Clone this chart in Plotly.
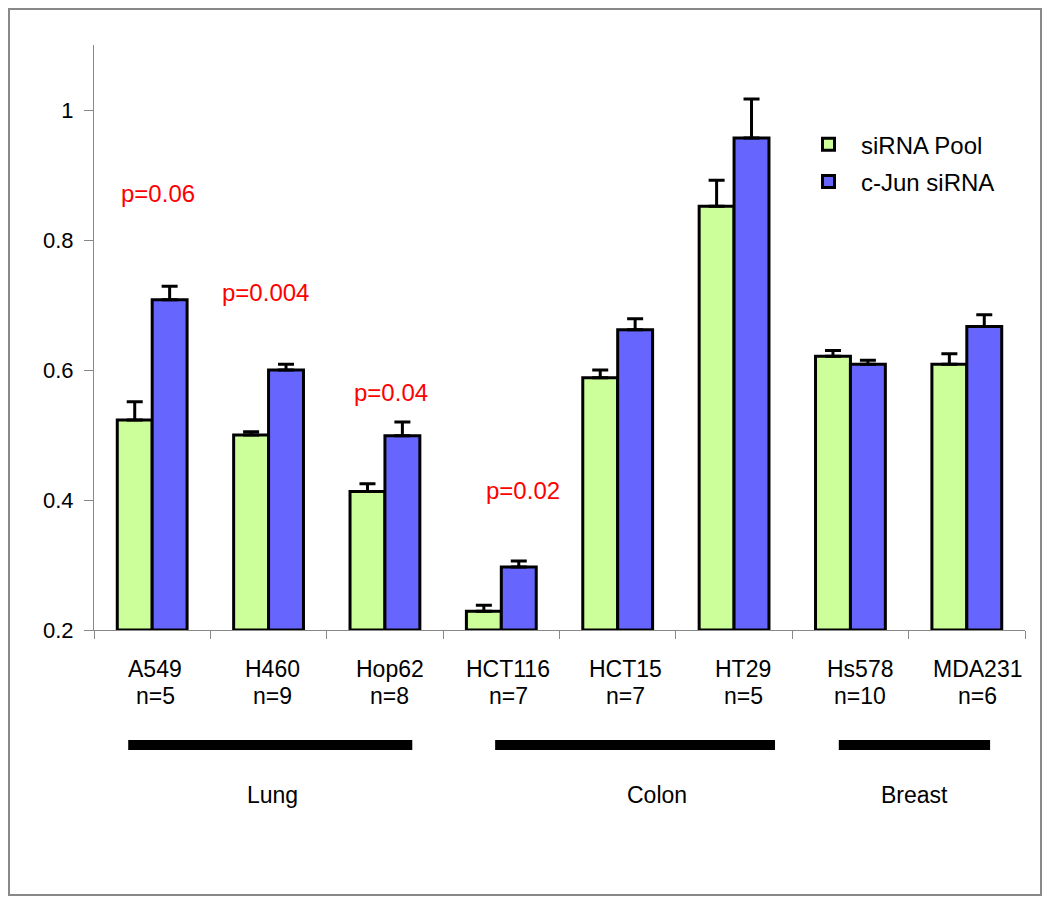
import plotly.graph_objects as go

# ---- data ----
cell_lines = ["A549", "H460", "Hop62", "HCT116", "HCT15", "HT29", "Hs578", "MDA231"]
n_labels = ["n=5", "n=9", "n=8", "n=7", "n=7", "n=5", "n=10", "n=6"]
pool_vals = [0.523, 0.500, 0.413, 0.229, 0.588, 0.852, 0.621, 0.609]
pool_err = [0.028, 0.005, 0.012, 0.009, 0.012, 0.040, 0.009, 0.016]
cjun_vals = [0.708, 0.600, 0.499, 0.297, 0.662, 0.957, 0.609, 0.667]
cjun_err = [0.021, 0.009, 0.021, 0.009, 0.017, 0.060, 0.006, 0.018]
p_texts = ["p=0.06", "p=0.004", "p=0.04", "p=0.02"]
groups = ["Lung", "Colon", "Breast"]
y_ticks = [0.2, 0.4, 0.6, 0.8, 1.0]
y_ticktext = ["0.2", "0.4", "0.6", "0.8", "1"]
series_names = ["siRNA Pool", "c-Jun siRNA"]

BASE = 0.2
FONT = "Liberation Sans, Arial, sans-serif"
GREEN = "#CCFF99"
BLUE = "#6666FF"

fig = go.Figure()
for name, vals, errs, col, grp in [
    (series_names[0], pool_vals, pool_err, GREEN, "a"),
    (series_names[1], cjun_vals, cjun_err, BLUE, "b"),
]:
    fig.add_trace(go.Bar(
        name=name,
        x=cell_lines,
        y=[v - BASE for v in vals],
        base=BASE,
        legendgroup=grp,
        marker=dict(color=col, line=dict(color="black", width=3)),
        error_y=dict(type="data", symmetric=False, array=errs,
                     arrayminus=[0] * len(errs), color="black",
                     thickness=3, width=8),
    ))

annotations = []
# category labels (two rows), laid out slightly right of the bar centres
for i, (c, n) in enumerate(zip(cell_lines, n_labels)):
    shift = round(3 + 1.2 * i)
    annotations.append(dict(x=i, y=-0.0667, xref="x", yref="paper", text=c,
                            showarrow=False, yanchor="middle", xshift=shift,
                            font=dict(family=FONT, size=23, color="black")))
    annotations.append(dict(x=i, y=-0.1128, xref="x", yref="paper", text=n,
                            showarrow=False, yanchor="middle", xshift=shift,
                            font=dict(family=FONT, size=23, color="black")))

# p-value labels
p_pos = [(0.05, 0.872), (0.97, 0.72), (2.05, 0.566), (3.19, 0.414)]
for t, (px, py) in zip(p_texts, p_pos):
    annotations.append(dict(x=px, y=py, xref="x", yref="y", text=t,
                            showarrow=False, yanchor="middle",
                            font=dict(family=FONT, size=24, color="#FF0000")))

# group labels and bars
g_label_x = [1.03, 4.34, 6.55]
g_bar = [(-0.206, 2.235), (2.947, 5.352), (5.9, 7.2)]
shapes = []
for g, gx, (x0, x1) in zip(groups, g_label_x, g_bar):
    annotations.append(dict(x=gx, y=-0.2812, xref="x", yref="paper", text=g,
                            showarrow=False, yanchor="middle",
                            font=dict(family=FONT, size=23, color="black")))
    shapes.append(dict(type="rect", xref="x", yref="paper", x0=x0, x1=x1,
                       y0=-0.2051, y1=-0.188, fillcolor="black",
                       line=dict(width=0)))

# outer border
shapes.append(dict(type="rect", xref="paper", yref="paper",
                   x0=-0.0913, x1=1.0172, y0=-0.4530, y1=1.0615,
                   line=dict(color="#888888", width=2), fillcolor="rgba(0,0,0,0)"))

fig.update_layout(
    width=1034, height=890,
    margin=dict(l=86, r=17, t=37, b=268),
    paper_bgcolor="white", plot_bgcolor="white",
    barmode="group", bargap=0.4, bargroupgap=0,
    font=dict(family=FONT, color="black"),
    showlegend=True,
    legend=dict(x=0.754, y=0.868, xanchor="left", yanchor="top",
                bgcolor="rgba(0,0,0,0)", borderwidth=0,
                font=dict(family=FONT, size=24, color="black"),
                traceorder="grouped", tracegroupgap=3, itemwidth=55),
    annotations=annotations,
    shapes=shapes,
    xaxis=dict(type="category", showticklabels=False, showline=True,
               linecolor="#888888", linewidth=1, ticks="outside",
               tickson="boundaries", ticklen=8, tickcolor="#888888",
               showgrid=False, zeroline=False, range=[-0.5, 7.5]),
    yaxis=dict(range=[0.2, 1.1], tickvals=y_ticks, ticktext=y_ticktext,
               showline=True, linecolor="#888888", linewidth=1,
               ticks="outside", ticklen=9, tickcolor="#888888",
               ticklabelstandoff=6,
               tickfont=dict(family=FONT, size=22, color="black"),
               showgrid=False, zeroline=False),
)

fig.write_html("out.html")
